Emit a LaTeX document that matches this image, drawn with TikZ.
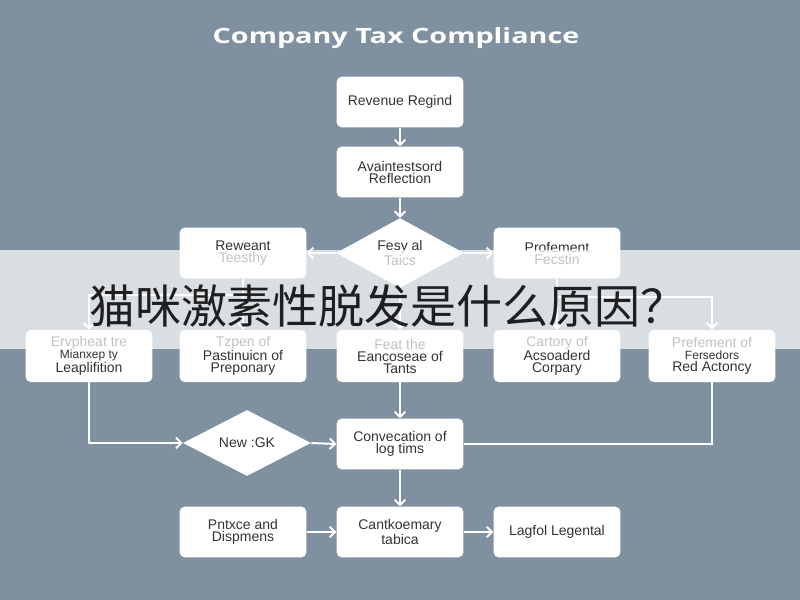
\documentclass[tikz,border=0pt]{standalone}
\usepackage{fontspec}
\setmainfont{Liberation Sans}
\newfontfamily\titlefont{Open Sans}
\newfontfamily\cjkfont{Noto Sans CJK SC}
\usetikzlibrary{shapes.geometric,arrows.meta}
\definecolor{bgc}{HTML}{7F91A0}
\definecolor{txt}{HTML}{333333}
\begin{document}
\begin{tikzpicture}[x=0.75pt,y=-0.75pt,
  box/.style={fill=white, rounded corners=3.75pt, minimum width=95pt, minimum height=38pt,
    align=center, text=txt, font=\fontsize{10.5}{9}\selectfont, inner sep=1pt},
  dia/.style={diamond, fill=white, minimum width=96pt, minimum height=46pt, inner sep=0pt,
    align=center, text=txt, font=\fontsize{10.5}{9}\selectfont},
  conn/.style={draw=white, line width=1.5pt},
  arr/.style={conn, -{Straight Barb[length=4pt,width=8pt]}}]
\fill[bgc] (0,0) rectangle (800,600);
\useasboundingbox (0,0) rectangle (800,600);
% title
\node[text=white, font=\titlefont\bfseries\fontsize{16.5}{18}\selectfont, anchor=base, inner sep=0pt] (title) at (396,43) {\resizebox{275pt}{12pt}{Company Tax Compliance}};
% nodes
\node[box] (b1) at (400,102) {Revenue Regind};
\node[box] (b2) at (400,172) {Avaintestsord\\Reflection};
\node[dia, minimum height=46.5pt] (d1) at (400,253) {Fesy al\\Taics};
\node[box] (rL) at (243,253) {Reweant\\Teesthy};
\node[box] (rR) at (557,253) {Profement\\Fecstin};
\node[box, minimum height=39pt] (A) at (89,356) {Ervpheat tre\\{\fontsize{9}{8}\selectfont Mianxep ty}\\Leaplifition};
\node[box, minimum height=39pt] (B) at (243,356) {Tzpen of\\Pastinuicn of\\Preponary};
\node[box, minimum height=39pt] (C) at (400,356) {Feat the\\Eancoseae of\\Tants};
\node[box, minimum height=39pt] (D) at (557,356) {Cartory of\\Acsoaderd\\Corpary};
\node[box, minimum height=39pt] (E) at (712,356) {Prefement of\\{\fontsize{9}{8}\selectfont Fersedors}\\Red Actoncy};
\node[dia, minimum height=43.5pt] (d2) at (247,443) {New :GK};
\node[box] (c1) at (400,444) {Convecation of\\log tims};
\node[box] (f1) at (243,532) {Pntxce and\\Dispmens};
\node[box] (f2) at (400,532) {Cantkoemary\\tabica};
\node[box] (f3) at (557,532) {Lagfol Legental};
% junctions
\coordinate (jL) at (243,295);
\coordinate (jR) at (557,297);
% connectors
\draw[arr] (b1) -- (b2);
\draw[arr] (b2) -- (d1);
\draw[arr] (d1.west) -- (rL.east);
\draw[arr] (d1.east) -- (rR.west);
\draw[conn] (rL.south) -- (jL);
\draw[arr] (jL) -| (A.north);
\draw[arr] (jL) -- (B.north);
\draw[arr] (d1.south) -- (C.north);
\draw[conn] (rR.south) -- (jR);
\draw[arr] (jR) -| (E.north);
\draw[arr] (jR) -- (D.north);
\draw[arr] (A.south) |- (d2.west);
\draw[arr] (d2.east) -- (c1.west);
\draw[conn] (E.south) |- (c1.east);
\draw[arr] (C.south) -- (c1.north);
\draw[arr] (c1.south) -- (f2.north);
\draw[arr] (f1.east) -- (f2.west);
\draw[arr] (f2.east) -- (f3.west);
% overlay band
\fill[white, fill opacity=0.7] (0,250) rectangle (800,349);
\node[text=black!88, font=\cjkfont\fontsize{34.5}{36}\selectfont, inner sep=0pt] (cn) at (388,306) {猫咪激素性脱发是什么原因？};
\end{tikzpicture}
\end{document}
